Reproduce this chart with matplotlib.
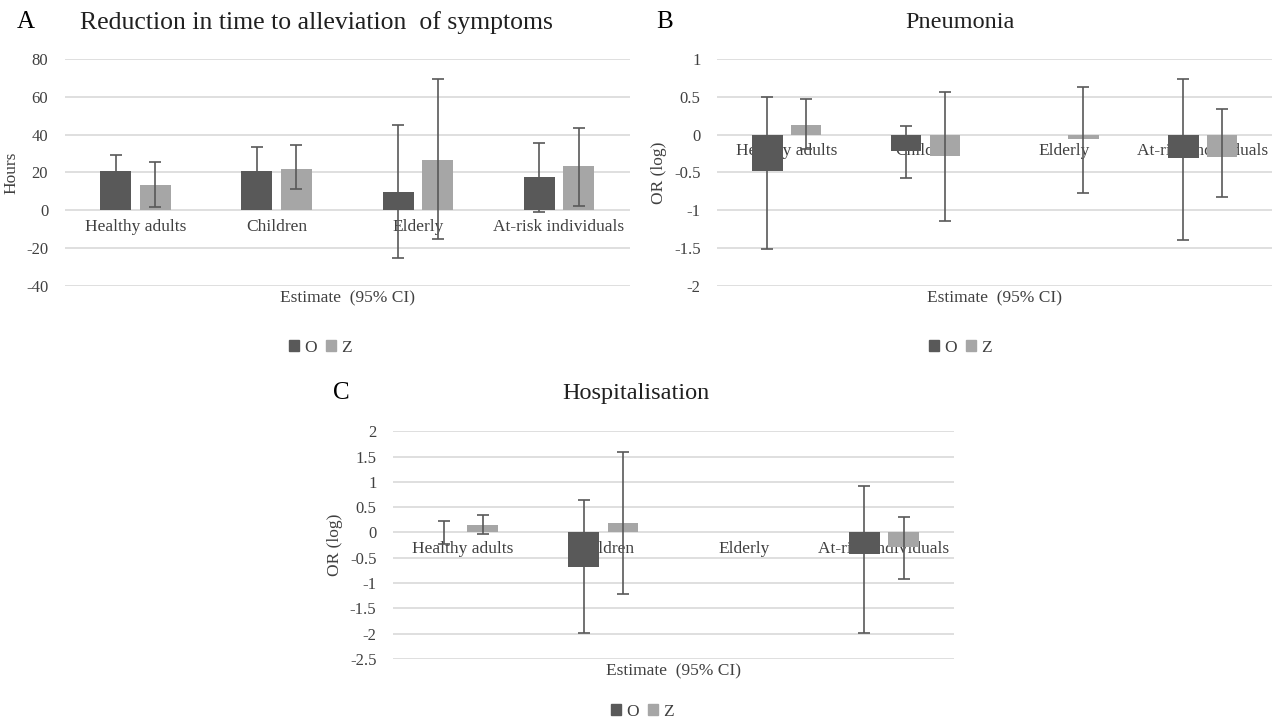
import numpy as np
import matplotlib
matplotlib.use("Agg")
import matplotlib.pyplot as plt
from matplotlib.patches import Patch

plt.rcParams['font.family'] = ['Liberation Serif', 'DejaVu Serif']
plt.rcParams['axes.unicode_minus'] = False

groups = ['Healthy adults', 'Children', 'Elderly', 'At-risk individuals']
series = ['O', 'Z']

# A - reduction in time to alleviation of symptoms (hours)
a_o = [21, 21, 9.6, 17.5]
a_o_lo = [13.5, 8.5, -25.5, -1]
a_o_hi = [29, 33.5, 45, 35.5]
a_z = [13.5, 22, 26.5, 23.5]
a_z_lo = [1.5, 11, -15, 2.5]
a_z_hi = [25.5, 34.5, 69.5, 43.5]

# B - pneumonia, OR (log)
b_o = [-0.48, -0.22, np.nan, -0.31]
b_o_lo = [-1.51, -0.58, np.nan, -1.39]
b_o_hi = [0.50, 0.11, np.nan, 0.73]
b_z = [0.13, -0.28, -0.06, -0.30]
b_z_lo = [-0.19, -1.14, -0.77, -0.82]
b_z_hi = [0.47, 0.56, 0.63, 0.34]

# C - hospitalisation, OR (log)
c_o = [0.0, -0.68, np.nan, -0.42]
c_o_lo = [-0.23, -1.99, np.nan, -1.99]
c_o_hi = [0.23, 0.64, np.nan, 0.91]
c_z = [0.15, 0.18, np.nan, -0.28]
c_z_lo = [-0.04, -1.22, np.nan, -0.92]
c_z_hi = [0.34, 1.60, np.nan, 0.31]

dark = '#595959'
light = '#a6a6a6'
grid_c = '#d9d9d9'
text_c = '#404040'


def panel(ax, o, o_lo, o_hi, z, z_lo, z_hi, ylim, yticks, ylabel):
    x = np.arange(len(groups))
    w = 0.22
    off = 0.14
    for vals, lo, hi, xs, col in [(o, o_lo, o_hi, x - off, dark),
                                  (z, z_lo, z_hi, x + off, light)]:
        vals = np.array(vals, dtype=float)
        lo = np.array(lo, dtype=float)
        hi = np.array(hi, dtype=float)
        ax.bar(xs, vals, w, color=col, zorder=2)
        err = np.vstack([vals - lo, hi - vals])
        ax.errorbar(xs, vals, yerr=err, fmt='none', ecolor=dark,
                    elinewidth=1.2, capsize=4, capthick=1.2, zorder=3)
    ax.set_xlim(-0.5, len(groups) - 0.5)
    ax.set_ylim(*ylim)
    ax.set_yticks(yticks)
    ax.set_yticklabels(['{:g}'.format(t) for t in yticks])
    ax.set_xticks(x)
    ax.set_xticklabels(groups)
    ax.set_axisbelow(True)
    ax.yaxis.grid(True, color=grid_c, lw=1.2)
    for s in ax.spines.values():
        s.set_visible(False)
    ax.spines['bottom'].set_position(('data', 0))
    ax.tick_params(axis='x', length=0, pad=6, labelsize=12.5, labelcolor=text_c)
    ax.tick_params(axis='y', length=0, pad=12, labelsize=12, labelcolor=text_c)
    ax.set_ylabel(ylabel, fontsize=12.5, color=text_c, labelpad=5)
    ax.text(0.5, -0.055, 'Estimate  (95% CI)', transform=ax.transAxes,
            ha='center', va='center', fontsize=12.5, color=text_c)


fig = plt.figure(figsize=(12.72, 7.2), dpi=100)

axA = fig.add_axes([0.051, 0.603, 0.444, 0.315])
panel(axA, a_o, a_o_lo, a_o_hi, a_z, a_z_lo, a_z_hi,
      (-40, 80), [-40, -20, 0, 20, 40, 60, 80], 'Hours')

axB = fig.add_axes([0.564, 0.603, 0.436, 0.315])
panel(axB, b_o, b_o_lo, b_o_hi, b_z, b_z_lo, b_z_hi,
      (-2, 1), [-2, -1.5, -1, -0.5, 0, 0.5, 1], 'OR (log)')

axC = fig.add_axes([0.309, 0.085, 0.441, 0.316])
panel(axC, c_o, c_o_lo, c_o_hi, c_z, c_z_lo, c_z_hi,
      (-2.5, 2), [-2.5, -2, -1.5, -1, -0.5, 0, 0.5, 1, 1.5, 2], 'OR (log)')

# panel letters and titles
fig.text(0.013, 0.969, 'A', fontsize=18, va='center', ha='left')
fig.text(0.063, 0.969, 'Reduction in time to alleviation  of symptoms',
         fontsize=18.5, va='center', ha='left', color='#202020')
fig.text(0.516, 0.969, 'B', fontsize=18, va='center', ha='left')
fig.text(0.755, 0.969, 'Pneumonia', fontsize=17.5, va='center', ha='center',
         color='#202020')
fig.text(0.262, 0.454, 'C', fontsize=18, va='center', ha='left')
fig.text(0.50, 0.454, 'Hospitalisation', fontsize=17.5, va='center',
         ha='center', color='#202020')

handles = [Patch(color=dark), Patch(color=light)]
for xc, yc in [(0.252, 0.517), (0.755, 0.517), (0.505, 0.011)]:
    fig.legend(handles, series, loc='center', bbox_to_anchor=(xc, yc),
               ncol=2, frameon=False, fontsize=12.5, handlelength=0.6,
               handleheight=0.6, handletextpad=0.3, columnspacing=0.5,
               labelcolor=text_c)

plt.savefig('out.png', dpi=100)
